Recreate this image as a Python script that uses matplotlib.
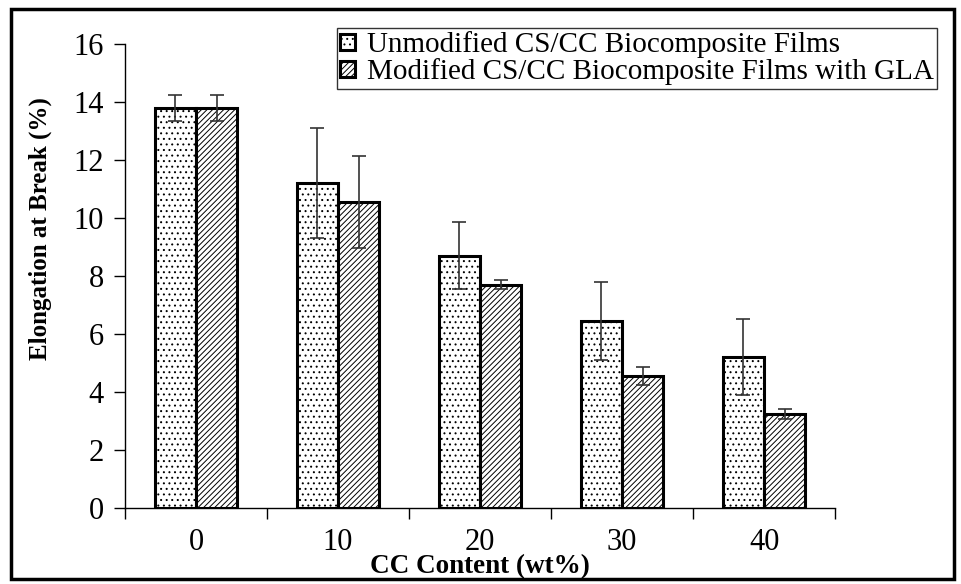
import numpy as np
import matplotlib
matplotlib.use("Agg")
import matplotlib.pyplot as plt
from matplotlib.patches import Rectangle

# elongation at break vs CC loading
cc_content = ["0", "10", "20", "30", "40"]
unmodified = [13.8, 11.2, 8.7, 6.45, 5.2]
unmodified_err = [0.45, 1.9, 1.15, 1.35, 1.3]
modified = [13.8, 10.55, 7.7, 4.55, 3.25]
modified_err = [0.45, 1.6, 0.15, 0.32, 0.18]

plt.rcParams['font.family'] = ['Liberation Serif', 'DejaVu Serif']
plt.rcParams['hatch.linewidth'] = 0.7
plt.rcParams['hatch.color'] = '#303030'

fig = plt.figure(figsize=(9.61, 5.84), dpi=100)
ax = fig.add_axes([0.130, 0.130, 0.739, 0.795])

x = np.arange(len(cc_content))
w = 0.29
err_kw = dict(ecolor='#333333', elinewidth=1.2, capsize=5, capthick=1.2)

ax.bar(x - w / 2, unmodified, w, yerr=unmodified_err, color='white',
       edgecolor='black', linewidth=2.2, hatch='...', error_kw=err_kw,
       label='Unmodified CS/CC Biocomposite Films')
ax.bar(x + w / 2, modified, w, yerr=modified_err, color='white',
       edgecolor='black', linewidth=2.2, hatch='//////', error_kw=err_kw,
       label='Modified CS/CC Biocomposite Films with GLA')

ax.set_xlim(-0.5, len(cc_content) - 0.5)
ax.set_ylim(0, 16)
ax.set_yticks(range(0, 17, 2))
ax.set_xticks(x)
ax.set_xticklabels(cc_content)
ax.set_xticks(np.arange(-0.5, len(cc_content)), minor=True)
ax.tick_params(axis='x', which='major', length=0, pad=14, labelsize=22)
ax.tick_params(axis='x', which='minor', length=8, width=1, direction='out')
ax.tick_params(axis='y', length=8, width=1, direction='out', labelsize=22, pad=7)

for side in ['top', 'right']:
    ax.spines[side].set_visible(False)
for side in ['left', 'bottom']:
    ax.spines[side].set_linewidth(1)

ax.set_ylabel('Elongation at Break (%)', fontsize=18, fontweight='bold')
ax.yaxis.set_label_coords(-0.102, 0.603)
ax.set_xlabel('CC Content (wt%)', fontsize=19.5, fontweight='bold', labelpad=-2)

leg = ax.legend(loc='upper left', bbox_to_anchor=(0.2986, 1.034), fontsize=21,
                frameon=True, fancybox=False, edgecolor='black',
                handlelength=0.5, handleheight=0.5, handletextpad=0.4,
                borderpad=0.12, labelspacing=0.0, borderaxespad=0)
leg.get_frame().set_linewidth(1)

# outer frame around the whole figure
fig.patches.append(Rectangle((0.011, 0.008), 0.982, 0.976, transform=fig.transFigure,
                             fill=False, edgecolor='black', linewidth=2.5))

fig.savefig('out.png', dpi=100)
